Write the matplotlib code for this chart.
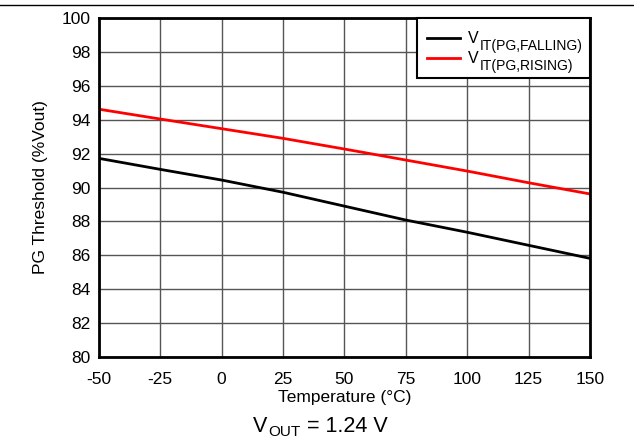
import matplotlib
matplotlib.use("Agg")
import matplotlib.pyplot as plt
from matplotlib.lines import Line2D
from matplotlib.patches import Rectangle

plt.rcParams['font.family'] = ['Liberation Sans', 'DejaVu Sans']
plt.rcParams['axes.unicode_minus'] = False

temperature = [-50, -25, 0, 25, 50, 75, 100, 125, 150]
v_falling = [91.72, 91.07, 90.44, 89.72, 88.90, 88.08, 87.36, 86.59, 85.82]
v_rising = [94.62, 94.04, 93.47, 92.90, 92.27, 91.62, 90.97, 90.28, 89.62]
series_names = ['IT(PG,FALLING)', 'IT(PG,RISING)']
series_colors = ['black', '#ff0000']
xticks = [-50, -25, 0, 25, 50, 75, 100, 125, 150]
yticks = [80, 82, 84, 86, 88, 90, 92, 94, 96, 98, 100]

W, H = 634, 448
fig = plt.figure(figsize=(6.34, 4.48), dpi=100)
ax = fig.add_axes([0.156, 0.2031, 0.7746, 0.7567])

ax.plot(temperature, v_falling, color=series_colors[0], lw=2, zorder=3)
ax.plot(temperature, v_rising, color=series_colors[1], lw=2, zorder=3)

ax.set_xlim(-50, 150)
ax.set_ylim(80, 100)
ax.set_xticks(xticks)
ax.set_yticks(yticks)
ax.tick_params(axis='y', length=0, labelsize=12.5, pad=6)
ax.tick_params(axis='x', length=0, labelsize=12.5, pad=11)
ax.grid(True, color='#555555', lw=1)
for s in ax.spines.values():
    s.set_linewidth(2)
    s.set_zorder(6)
ax.set_xlabel('Temperature (°C)', fontsize=12.5, labelpad=2)
ax.set_ylabel('PG Threshold (%Vout)', fontsize=12.5, labelpad=10)


def fx(px):
    return px / W


def fy(py):
    return 1 - py / H


# legend box
box = Rectangle((fx(417), fy(78)), fx(590) - fx(417), fy(18) - fy(78),
                transform=fig.transFigure, facecolor='white', edgecolor='black',
                lw=1.5, zorder=5)
fig.add_artist(box)
line_y = [37.7, 57.7]
base_y = [43.3, 63.3]
for name, col, ly, by in zip(series_names, series_colors, line_y, base_y):
    fig.add_artist(Line2D([fx(427), fx(460)], [fy(ly), fy(ly)], color=col, lw=2, zorder=6,
                          transform=fig.transFigure))
    fig.text(fx(468), fy(by), 'V', fontsize=11.5, va='baseline', ha='left', zorder=7)
    fig.text(fx(480), fy(by + 6.7), name, fontsize=10, va='baseline', ha='left', zorder=7)

# caption
fig.text(fx(253), fy(432.3), 'V', fontsize=15.5, va='baseline', ha='left')
fig.text(fx(268), fy(436), 'OUT', fontsize=11, va='baseline', ha='left')
fig.text(fx(307), fy(432.3), '= 1.24 V', fontsize=15.5, va='baseline', ha='left')
fig.add_artist(Line2D([0, 1], [1 - 5/448, 1 - 5/448], color='black', lw=1))

fig.savefig('out.png', dpi=100)
